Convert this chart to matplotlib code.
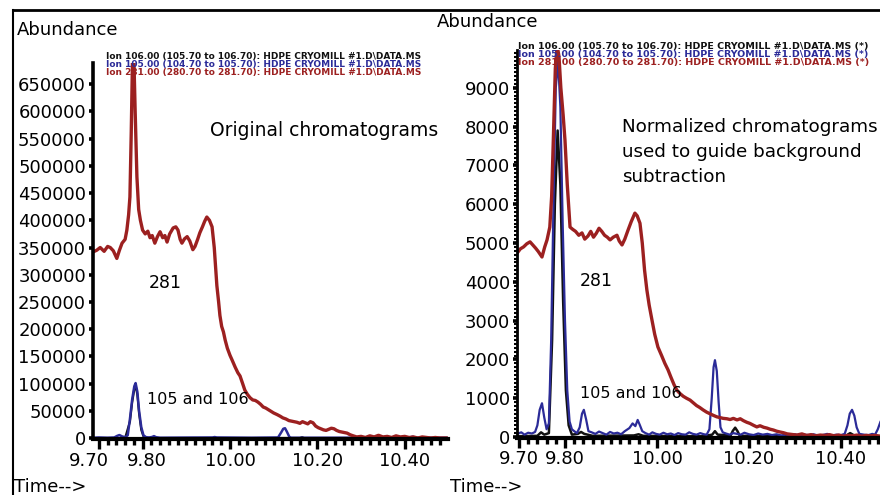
import numpy as np
import matplotlib
matplotlib.use("Agg")
import matplotlib.pyplot as plt
from matplotlib import font_manager
from matplotlib.ticker import FixedLocator, MultipleLocator, FuncFormatter
from matplotlib.transforms import ScaledTranslation
from matplotlib.lines import Line2D

# ---------- Datos ----------
# Panel izquierdo: cromatogramas originales (abundancia en miles)
t_281_orig = [9.687, 9.695, 9.703, 9.712, 9.720, 9.726, 9.733, 9.741, 9.747, 9.753,
              9.760, 9.764, 9.768, 9.771, 9.774, 9.777, 9.780, 9.783, 9.787, 9.791,
              9.795, 9.800, 9.806, 9.812, 9.817, 9.822, 9.828, 9.834, 9.840, 9.846,
              9.851, 9.856, 9.862, 9.870, 9.876, 9.881, 9.886, 9.890, 9.896, 9.902,
              9.908, 9.915, 9.920, 9.926, 9.931, 9.937, 9.942, 9.947, 9.953, 9.959,
              9.964, 9.970, 9.974, 9.977, 9.981, 9.985, 9.989, 9.994, 10.000, 10.005,
              10.012, 10.018, 10.023, 10.029, 10.034, 10.040, 10.046, 10.052, 10.058, 10.064,
              10.070, 10.076, 10.082, 10.088, 10.094, 10.100, 10.108, 10.115, 10.121, 10.128,
              10.135, 10.141, 10.147, 10.153, 10.160, 10.166, 10.172, 10.178, 10.184, 10.190,
              10.196, 10.202, 10.208, 10.214, 10.220, 10.226, 10.232, 10.238, 10.244, 10.250,
              10.256, 10.262, 10.268, 10.275, 10.282, 10.290, 10.300, 10.310, 10.320, 10.330,
              10.340, 10.350, 10.360, 10.370, 10.380, 10.390, 10.400, 10.410, 10.420, 10.430,
              10.440, 10.450, 10.460, 10.470, 10.480, 10.495]
v_281_orig = [342, 345, 350, 343, 352, 350, 344, 330, 345, 358,
              365, 382, 410, 443, 560, 700, 700, 600, 480, 420,
              400, 382, 375, 380, 368, 372, 358, 370, 379, 368,
              372, 360, 375, 386, 388, 382, 365, 358, 366, 370,
              362, 346, 352, 365, 377, 388, 398, 406, 400, 388,
              350, 280, 250, 225, 205, 195, 180, 165, 152, 143,
              130, 120, 114, 100, 88, 80, 74, 70, 69, 66,
              62, 57, 55, 52, 49, 46, 43, 40, 37, 35,
              32, 31, 30, 29, 27, 30, 28, 26, 30, 28,
              22, 19, 17, 15, 14, 16, 18, 17, 14, 12,
              11, 10, 9, 6, 4, 2, 3, 1, 4, 2,
              5, 2, 3, 1, 4, 2, 3, 1, 2, 0,
              2, 1, 0, 1, 0, 0]

t_105_orig = [9.687, 9.700, 9.720, 9.735, 9.742, 9.747, 9.753, 9.760, 9.766, 9.771,
              9.776, 9.781, 9.784, 9.788, 9.792, 9.797, 9.802, 9.808, 9.815, 9.822,
              9.826, 9.831, 9.840, 9.900, 9.960, 9.965, 9.970, 10.050, 10.110, 10.117,
              10.122, 10.126, 10.130, 10.136, 10.140, 10.300, 10.410, 10.418, 10.425, 10.495]
v_105_orig = [0.5, 1, 0.5, 1, 4, 5.5, 3, 1.5, 5, 35,
              70, 95, 101, 85, 50, 20, 5, 1.5, 1, 2,
              3.5, 1.5, 0.5, 0.8, 1, 1.8, 1, 0.5, 1, 10,
              17, 18, 12, 2, 0.5, 0.5, 0.5, 2.5, 0.5, 0.5]

t_106_orig = [9.687, 9.760, 9.771, 9.776, 9.781, 9.784, 9.788, 9.792, 9.797, 9.802,
              9.810, 10.160, 10.165, 10.170, 10.495]
v_106_orig = [0, 0, 30, 65, 90, 96, 80, 45, 15, 3,
              0, 0, 1.5, 0, 0]

# Panel derecho: cromatogramas normalizados
t_281_norm = [9.696, 9.703, 9.710, 9.717, 9.724, 9.730, 9.736, 9.742, 9.750, 9.756,
              9.761, 9.767, 9.771, 9.775, 9.779, 9.783, 9.787, 9.791, 9.796, 9.800,
              9.805, 9.811, 9.817, 9.823, 9.830, 9.837, 9.843, 9.850, 9.856, 9.862,
              9.868, 9.874, 9.880, 9.886, 9.892, 9.898, 9.905, 9.913, 9.918, 9.924,
              9.930, 9.937, 9.944, 9.952, 9.957, 9.963, 9.968, 9.973, 9.978, 9.983,
              9.989, 9.995, 10.002, 10.010, 10.017, 10.024, 10.030, 10.037, 10.043, 10.050,
              10.057, 10.064, 10.072, 10.079, 10.086, 10.093, 10.100, 10.108, 10.115, 10.122,
              10.130, 10.137, 10.144, 10.152, 10.159, 10.166, 10.174, 10.181, 10.188, 10.195,
              10.202, 10.210, 10.217, 10.224, 10.232, 10.239, 10.246, 10.253, 10.260, 10.267,
              10.275, 10.283, 10.290, 10.297, 10.304, 10.315, 10.325, 10.335, 10.345, 10.355,
              10.365, 10.375, 10.385, 10.395, 10.405, 10.415, 10.425, 10.435, 10.445, 10.455,
              10.465, 10.475, 10.485, 10.500]
v_281_norm = [4740, 4850, 4900, 4980, 5030, 4950, 4870, 4780, 4640, 4900,
              5080, 5410, 6200, 7800, 9500, 10100, 9800, 9000, 8300, 7650,
              6500, 5410, 5350, 5300, 5200, 5260, 5100, 5180, 5300, 5150,
              5250, 5380, 5300, 5200, 5150, 5080, 5150, 5200, 5050, 4950,
              5100, 5330, 5550, 5770, 5700, 5510, 5000, 4300, 3790, 3400,
              3020, 2650, 2320, 2100, 1900, 1730, 1550, 1350, 1210, 1120,
              1050, 1000, 950, 880, 810, 760, 700, 640, 600, 560,
              520, 500, 480, 470, 450, 480, 440, 470, 420, 380,
              350, 300, 260, 290, 250, 230, 200, 180, 150, 130,
              110, 80, 70, 60, 50, 80, 40, 60, 30, 50,
              40, 60, 30, 50, 20, 40, 30, 50, 20, 40,
              30, 40, 20, 30]

t_105_norm = [9.696, 9.705, 9.712, 9.720, 9.728, 9.735, 9.740, 9.745, 9.750, 9.755,
              9.760, 9.765, 9.770, 9.775, 9.780, 9.785, 9.790, 9.795, 9.800, 9.805,
              9.810, 9.815, 9.820, 9.826, 9.832, 9.837, 9.841, 9.846, 9.851, 9.858,
              9.866, 9.874, 9.882, 9.890, 9.898, 9.906, 9.914, 9.922, 9.930, 9.940,
              9.947, 9.953, 9.958, 9.963, 9.968, 9.975, 9.983, 9.990, 9.998, 10.006,
              10.014, 10.022, 10.030, 10.038, 10.046, 10.054, 10.062, 10.070, 10.078, 10.086,
              10.094, 10.102, 10.108, 10.114, 10.119, 10.123, 10.126, 10.130, 10.134, 10.138,
              10.143, 10.150, 10.158, 10.166, 10.174, 10.182, 10.190, 10.200, 10.210, 10.220,
              10.230, 10.240, 10.250, 10.260, 10.270, 10.280, 10.290, 10.300, 10.310, 10.320,
              10.330, 10.340, 10.350, 10.360, 10.370, 10.380, 10.390, 10.400, 10.408, 10.414,
              10.419, 10.424, 10.429, 10.434, 10.440, 10.450, 10.460, 10.468, 10.474, 10.480,
              10.486, 10.492, 10.500]
v_105_norm = [80, 120, 60, 110, 90, 130, 300, 700, 870, 500,
              200, 350, 2500, 6000, 9000, 9700, 8500, 5500, 3000, 1200,
              400, 200, 150, 100, 250, 600, 700, 450, 150, 120,
              80, 140, 100, 60, 130, 90, 110, 70, 150, 230,
              350, 280, 440, 300, 150, 100, 60, 120, 80, 60,
              110, 70, 90, 50, 100, 70, 60, 120, 80, 60,
              100, 70, 60, 200, 1000, 1800, 1980, 1700, 900, 250,
              120, 90, 60, 100, 80, 60, 110, 70, 50, 90,
              60, 80, 50, 70, 40, 60, 50, 70, 40, 60,
              50, 70, 40, 50, 80, 40, 60, 50, 80, 300,
              600, 700, 550, 250, 80, 60, 50, 80, 60, 200,
              400, 500, 600]

t_106_norm = [9.696, 9.740, 9.748, 9.755, 9.765, 9.772, 9.778, 9.784, 9.790, 9.796,
              9.802, 9.808, 9.815, 9.828, 9.835, 9.842, 9.860, 9.950, 9.960, 9.970,
              10.100, 10.120, 10.126, 10.132, 10.160, 10.165, 10.170, 10.175, 10.180, 10.300,
              10.410, 10.420, 10.430, 10.500]
v_106_norm = [20, 30, 120, 60, 100, 2500, 6000, 7900, 6500, 3500,
              1200, 300, 60, 80, 130, 80, 30, 40, 70, 30,
              20, 60, 150, 60, 40, 160, 240, 150, 30, 20,
              30, 100, 30, 20]

ticks_orig = list(range(0, 650001, 50000))
ticks_norm = list(range(0, 9001, 1000))
x_ticks = [9.70, 9.80, 10.00, 10.20, 10.40]

legend_lines = [
    "Ion 106.00 (105.70 to 106.70): HDPE CRYOMILL #1.D\\DATA.MS",
    "Ion 105.00 (104.70 to 105.70): HDPE CRYOMILL #1.D\\DATA.MS",
    "Ion 281.00 (280.70 to 281.70): HDPE CRYOMILL #1.D\\DATA.MS",
]

# ---------- Estilo ----------
C_106 = "#111111"
C_105 = "#2b2b98"
C_281 = "#9c2020"
W, H = 880, 495

# fuente estrecha si existe, si no DejaVu algo más pequeña
_names = {f.name for f in font_manager.fontManager.ttflist}
if "Liberation Sans Narrow" in _names:
    NARROW, S_NUM, S_ANN = "Liberation Sans Narrow", 15, 15
else:
    NARROW, S_NUM, S_ANN = "DejaVu Sans", 12.5, 11.5


def fx(px):
    return px / W


def fy(py):
    return 1 - py / H


fig = plt.figure(figsize=(W / 100, H / 100), dpi=100)
fig.patch.set_facecolor("white")

ax1 = fig.add_axes([fx(93), fy(439), fx(448) - fx(93), fy(63) - fy(439)])
ax2 = fig.add_axes([fx(517), fy(438), fx(887) - fx(517), fy(50) - fy(438)])

# izquierda (valores en miles)
ax1.plot(t_106_orig, np.array(v_106_orig) * 1000, color=C_106, lw=1.6)
ax1.plot(t_105_orig, np.array(v_105_orig) * 1000, color=C_105, lw=1.8)
ax1.plot(t_281_orig, np.array(v_281_orig) * 1000, color=C_281, lw=2.4)
ax1.set_xlim(9.6865, 10.499)
ax1.set_ylim(-1800, 689000)
ax1.yaxis.set_major_locator(FixedLocator(ticks_orig))
ax1.yaxis.set_major_formatter(FuncFormatter(lambda v, p: f"{v:.0f}"))

# derecha
ax2.plot(t_106_norm, v_106_norm, color=C_106, lw=1.8)
ax2.plot(t_105_norm, v_105_norm, color=C_105, lw=1.6)
ax2.plot(t_281_norm, v_281_norm, color=C_281, lw=2.4)
ax2.set_xlim(9.6957, 10.50)
ax2.set_ylim(-26, 9975)
ax2.yaxis.set_major_locator(FixedLocator(ticks_norm))
ax2.yaxis.set_minor_locator(MultipleLocator(100))
ax2.yaxis.set_major_formatter(FuncFormatter(lambda v, p: f"{v:.0f}"))

for ax in (ax1, ax2):
    for s in ("top", "right"):
        ax.spines[s].set_visible(False)
    ax.spines["bottom"].set_linewidth(3)
    ax.spines["left"].set_linewidth(2.6)
    ax.xaxis.set_major_locator(FixedLocator(x_ticks))
    ax.xaxis.set_minor_locator(MultipleLocator(0.02))
    ax.xaxis.set_major_formatter(FuncFormatter(lambda v, p: f"{v:.2f}"))
    ax.tick_params(axis="x", which="major", direction="out", length=7, width=2.4,
                   labelsize=13, pad=2)
    ax.tick_params(axis="x", which="minor", direction="out", length=4.5, width=2.4)
    ax.tick_params(axis="y", which="major", direction="out", length=3, width=2.6,
                   labelsize=13, pad=2)
    ax.set_facecolor("none")
ax2.tick_params(axis="y", which="minor", direction="out", length=2.5, width=1.5)
ax2.spines["left"].set_linewidth(2)

# en el original las dos primeras etiquetas del panel izquierdo están separadas
ticks1 = ax1.xaxis.get_major_ticks(len(x_ticks))
for tk, dx in ((ticks1[0], -10), (ticks1[1], 4)):
    tk.label1.set_transform(tk.label1.get_transform()
                            + ScaledTranslation(dx / 100, 0, fig.dpi_scale_trans))

# marco
fig.add_artist(Line2D([fx(13), 1], [fy(10), fy(10)], color="black", lw=2))
fig.add_artist(Line2D([fx(13), fx(13)], [fy(10), 0], color="black", lw=1.5))

# títulos de eje
fig.text(fx(17), fy(30), "Abundance", ha="left", va="center", fontsize=13)
fig.text(fx(437), fy(22), "Abundance", ha="left", va="center", fontsize=13)
fig.text(fx(14), fy(487), "Time-->", ha="left", va="center", fontsize=13)
fig.text(fx(450), fy(487), "Time-->", ha="left", va="center", fontsize=13)

# leyendas
for i, (txt, c) in enumerate(zip(legend_lines, [C_106, C_105, C_281])):
    fig.text(fx(106), fy(56 + 8 * i), txt, ha="left", va="center", color=c,
             fontsize=6.5, fontweight="bold")
    fig.text(fx(518), fy(47 + 8 * i), txt + " (*)", ha="left", va="center", color=c,
             fontsize=6.8, fontweight="bold")

# anotaciones
fig.text(fx(210), fy(130), "Original chromatograms", ha="left", va="center", fontsize=13.5)
fig.text(fx(622), fy(152), "Normalized chromatograms\nused to guide background\nsubtraction",
         ha="left", va="center", fontsize=13.2, linespacing=1.5)
fig.text(fx(165), fy(283), "281", ha="center", va="center", fontsize=S_NUM, family=NARROW)
fig.text(fx(596), fy(281), "281", ha="center", va="center", fontsize=S_NUM, family=NARROW)
fig.text(fx(147), fy(400), "105 and 106", ha="left", va="center", fontsize=S_ANN, family=NARROW)
fig.text(fx(580), fy(393), "105 and 106", ha="left", va="center", fontsize=S_ANN, family=NARROW)

fig.savefig("out.png", dpi=100)
